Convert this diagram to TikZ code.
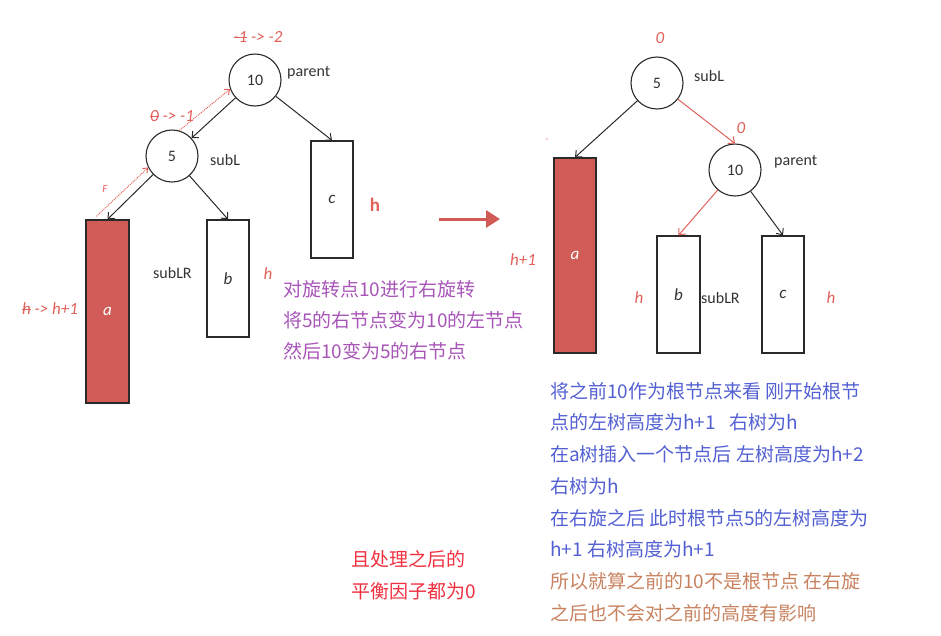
\documentclass[tikz,border=0pt]{standalone}
\usepackage{fontspec}
\setmainfont{Carlito}
\newfontfamily\cjk{Noto Sans CJK SC}
\usetikzlibrary{arrows.meta,calc}
\definecolor{boxred}{HTML}{D15B57}
\definecolor{lblred}{HTML}{E0605A}
\definecolor{linecol}{HTML}{2A2A2A}
\definecolor{textgray}{HTML}{333333}
\definecolor{purp}{HTML}{A855B8}
\definecolor{bluet}{HTML}{5360D2}
\definecolor{brownt}{HTML}{C8825F}
\definecolor{brightred}{HTML}{F03040}
\newcommand{\myStrike}[1]{\sbox0{#1}\rlap{\rule[0.28em]{\wd0}{0.7pt}}\usebox0}
\begin{document}
\begin{tikzpicture}[x=1pt,y=-1pt,
  circ/.style={circle,draw=linecol,line width=1.1pt,minimum size=52pt,inner sep=0pt,font=\fontsize{16}{18}\selectfont,text=textgray,fill=white},
  tree/.style={draw=linecol,line width=1.3pt,inner sep=0pt,font=\fontsize{17}{19}\selectfont\itshape,text=textgray},
  edgeb/.style={draw=linecol,line width=1pt,-{Straight Barb[length=5pt,width=9pt]}},
  edger/.style={draw=lblred,line width=1pt,-{Straight Barb[length=5pt,width=9pt]}},
  dotarr/.style={draw=lblred,line width=1pt,densely dotted,-{Straight Barb[length=4pt,width=7pt]}},
  vartxt/.style={font=\fontsize{16}{18}\selectfont,text=textgray,inner sep=0pt},
  rlbl/.style={font=\fontsize{17}{19}\selectfont\itshape,text=lblred,inner sep=0pt},
  cjkt/.style={font=\cjk\fontsize{19}{24}\selectfont,inner sep=0pt,anchor=west},
  bigarrow/.style={draw=boxred,line width=3pt,-{Triangle[length=14pt,width=17pt]}}
]
\useasboundingbox (0,0) rectangle (941,635);

% ---------- left tree ----------
\node[circ] (lp) at (255,80) {10};
\node[circ] (ls) at (172,156) {5};
\node[tree,fill=boxred,text=white,minimum width=43pt,minimum height=183pt] (la) at (107.5,311.5) {a};
\node[tree,minimum width=42pt,minimum height=117pt] (lb) at (228,278.5) {b};
\node[tree,minimum width=42pt,minimum height=117pt] (lc) at (332,199.5) {c};

\draw[edgeb] (lp) -- (ls);
\draw[edgeb] (lp) -- (lc.north);
\draw[edgeb] (ls) -- (la.north);
\draw[edgeb] (ls) -- (lb.north);

\coordinate (dstart) at ([xshift=11pt,yshift=3pt]la.north west);
\draw[dotarr] (ls.74) -- (lp.200);
\draw[dotarr] (dstart) -- (ls.206);

\node[vartxt,anchor=west] (lpn) at (287,73) {parent};
\node[vartxt,anchor=west] (lsn) at (210,160) {subL};
\node[vartxt,anchor=west] (lbn) at (153,273) {subLR};

\node[rlbl] (lbl1) at (258,37) {\myStrike{-1} -> -2};
\node[rlbl] (lbl2) at (172,116) {\myStrike{0} -> -1};
\node[rlbl,font=\fontsize{11}{12}\selectfont\itshape] (lbl3) at (105,189) {F};
\node[rlbl] (lbl4) at (50,309) {\myStrike{h} -> h+1};
\node[rlbl] (lbl5) at (268,274) {h};
\node[rlbl,font=\fontsize{19}{20}\selectfont\bfseries] (lbl6) at (375,205) {h};

\foreach \t [count=\i] in {{对旋转点10进行右旋转},{将5的右节点变为10的左节点},{然后10变为5的右节点}}
  \node[cjkt,text=purp,name=pt\i] at (283,{289+31*(\i-1)}) {\t};

% ---------- arrow ----------
\coordinate (ba) at (439,219);
\coordinate (bb) at (500,219);
\draw[bigarrow] (ba) -- (bb);

% ---------- right tree ----------
\node[circ] (rs) at (657,83) {5};
\node[circ] (rp) at (735,170) {10};
\node[tree,fill=boxred,text=white,minimum width=42pt,minimum height=195pt] (ra) at (575,255.5) {a};
\node[tree,minimum width=43pt,minimum height=117pt] (rb) at (678.5,294.5) {b};
\node[tree,minimum width=42pt,minimum height=117pt] (rc) at (783,294.5) {c};

\draw[edgeb] (rs) -- (ra.north);
\draw[edger] (rs) -- (rp.north);
\draw[edger] (rp) -- (rb.north);
\draw[edgeb] (rp) -- (rc.north);

\node[vartxt,anchor=west] (rsn) at (694,76) {subL};
\node[vartxt,anchor=west] (rpn) at (774,162) {parent};
\node[vartxt,anchor=west] (rbn) at (701,298) {subLR};

\node[rlbl] (r0a) at (660,38) {0};
\node[rlbl] (r0b) at (741,128) {0};
\node[rlbl,font=\fontsize{9}{10}\selectfont] (rmk) at (547,141) {'};
\node[rlbl] (rh1) at (523,260) {h+1};
\node[rlbl] (rh2) at (639,298) {h};
\node[rlbl] (rh3) at (831,298) {h};

\foreach \t [count=\i] in {{将之前10作为根节点来看 刚开始根节},{点的左树高度为h+1\hspace{0.7em}右树为h},{在a树插入一个节点后 左树高度为h+2},{右树为h},{在右旋之后 此时根节点5的左树高度为},{h+1 右树高度为h+1}}
  \node[cjkt,text=bluet,name=bt\i] at (550,{391+31.7*(\i-1)}) {\t};
\foreach \t [count=\i] in {{所以就算之前的10不是根节点 在右旋},{之后也不会对之前的高度有影响}}
  \node[cjkt,text=brownt,name=ct\i] at (550,{581.5+31.7*(\i-1)}) {\t};

\node[cjkt,text=brightred] (rd1) at (351,559) {且处理之后的};
\node[cjkt,text=brightred] (rd2) at (351,591) {平衡因子都为0};
\end{tikzpicture}
\end{document}
